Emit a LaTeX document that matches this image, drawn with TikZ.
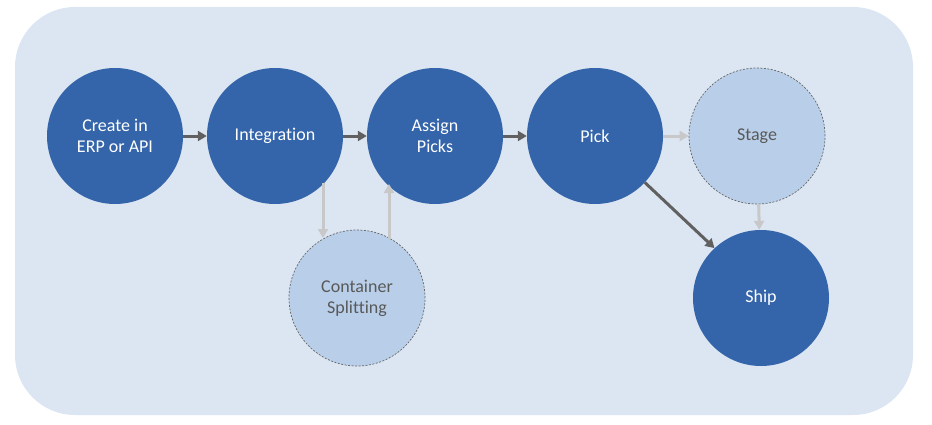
\documentclass[tikz,border=0pt]{standalone}
\usepackage{fontspec}
\setmainfont{Carlito}[Ligatures=NoCommon]
\usetikzlibrary{arrows.meta}
\definecolor{bgblue}{HTML}{DCE6F3}
\definecolor{darkblue}{HTML}{3464A9}
\definecolor{lightblue}{HTML}{B9CFE9}
\definecolor{darkarrow}{HTML}{606060}
\definecolor{lightarrow}{HTML}{C8C8C8}
\definecolor{greytext}{HTML}{595959}
\begin{document}
\begin{tikzpicture}[x=1pt,y=-1pt,
  dark/.style={circle,fill=darkblue,minimum size=136pt,inner sep=0pt,text=white,font=\fontsize{18}{21}\selectfont,align=center},
  light/.style={circle,fill=lightblue,draw=gray!80!black,dash pattern=on 2pt off 1.5pt,line width=0.7pt,minimum size=136pt,inner sep=0pt,text=greytext,font=\fontsize{18}{21}\selectfont,align=center},
  darrow/.style={draw=darkarrow,line width=3pt,-{Triangle[length=9pt,width=10pt]}},
  larrow/.style={draw=lightarrow,line width=3pt,-{Triangle[length=9pt,width=10pt]}}]
\useasboundingbox (0,0) rectangle (932,424);
\fill[bgblue,rounded corners=60pt] (15,7) rectangle (913,415);
\node[dark] (create) at (115,136) {Create in\\ERP or API};
\node[dark] (integ) at (275,136) {Integration};
\node[dark] (assign) at (435,136) {Assign\\Picks};
\node[dark] (pick) at (595,136) {Pick};
\node[light] (stage) at (757,136) {Stage};
\node[light] (split) at (357,298) {Container\\Splitting};
\node[dark] (ship) at (761,298) {Ship};
\draw[darrow] (create) -- (integ);
\draw[darrow] (integ) -- (assign);
\draw[darrow] (assign) -- (pick);
\draw[larrow] (pick) -- (stage);
\coordinate (a1s) at (323,183);
\coordinate (a1e) at (323,238);
\draw[larrow] (a1s) -- (a1e);
\coordinate (a2s) at (389,239);
\coordinate (a2e) at (389,184);
\draw[larrow] (a2s) -- (a2e);
\draw[darrow] (pick.-43) -- (ship.133);
\draw[larrow] (stage) -- (ship);
\end{tikzpicture}
\end{document}
